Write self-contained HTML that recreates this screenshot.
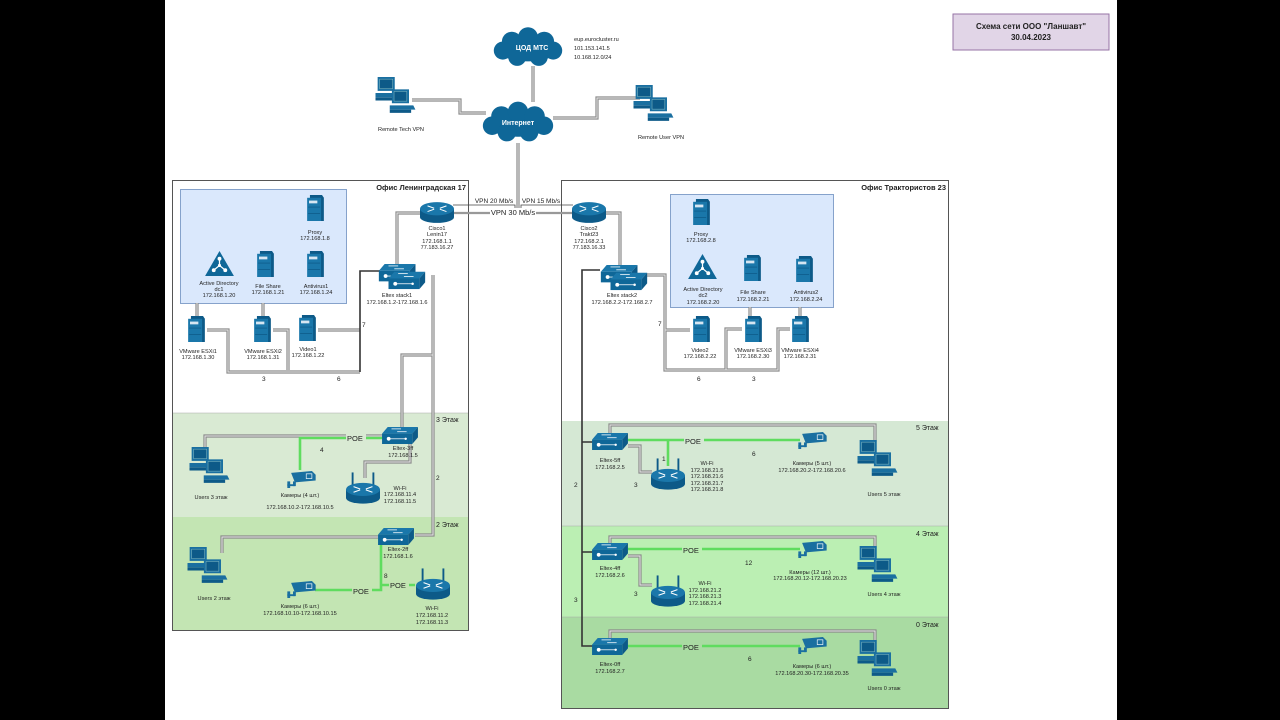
<!DOCTYPE html>
<html><head><meta charset="utf-8">
<style>
html,body{margin:0;padding:0;background:#000;}
svg{display:block;}
text{font-family:"Liberation Sans",sans-serif;fill:#222;}
.s{font-size:5.6px;text-anchor:middle;}
.t{font-size:8px;font-weight:bold;}
.g{fill:none;stroke:#8a8a8a;stroke-width:3.2;}
.gi{fill:none;stroke:#e6e6e6;stroke-width:1;}
.k{fill:none;stroke:#333;stroke-width:1.6;}
.p{fill:none;stroke:#5fdc5f;stroke-width:2.6;}
defs path{fill:none;}
</style></head><body>
<svg width="1280" height="720" viewBox="0 0 1280 720" xmlns="http://www.w3.org/2000/svg">
<defs>
<symbol id="srv" viewBox="0 0 18 28" overflow="visible">
<polygon points="3,0 16,0 18,3 18,28 3,28" fill="#0d5a88"/>
<rect x="0" y="3" width="15" height="25" fill="#1a77aa"/>
<rect x="2" y="6" width="9" height="3" fill="#d6e6f2"/>
<line x1="1" y1="13" x2="14" y2="13" stroke="#0d5a88" stroke-width="0.8"/>
<line x1="1" y1="20" x2="14" y2="20" stroke="#0d5a88" stroke-width="0.8"/>
</symbol>
<symbol id="pc1" viewBox="0 0 26 24" overflow="visible">
<rect x="2" y="0" width="16" height="13" fill="#1a6fa0"/>
<rect x="4" y="2" width="12" height="9" fill="#0d5a88" stroke="#9cc" stroke-width="0.4"/>
<polygon points="0,15 22,15 24,19 0,19" fill="#1a6fa0"/>
<rect x="0" y="19" width="20" height="3" fill="#0d5a88"/>
</symbol>
<symbol id="pc" viewBox="0 0 46 40" overflow="visible">
<use href="#pc1" x="0" y="0" width="30" height="27"/>
<use href="#pc1" x="15" y="13" width="30" height="27"/>
</symbol>
<symbol id="rt" viewBox="0 0 36 24" overflow="visible">
<rect x="0" y="8" width="36" height="9" fill="#0d5a88"/>
<ellipse cx="18" cy="17" rx="18" ry="6" fill="#0d5a88"/>
<ellipse cx="18" cy="8" rx="18" ry="7" fill="#1a77aa"/>
<g stroke="#fff" stroke-width="1.1">
<line x1="8" y1="5" x2="15" y2="7.5"/><line x1="21" y1="8.5" x2="28" y2="11"/>
<line x1="28" y1="5" x2="21" y2="7.5"/><line x1="15" y1="8.5" x2="8" y2="11"/>
</g>
</symbol>
<symbol id="wf" viewBox="0 0 36 34" overflow="visible">
<line x1="7" y1="0" x2="7" y2="14" stroke="#0d5a88" stroke-width="2"/>
<line x1="29" y1="0" x2="29" y2="14" stroke="#0d5a88" stroke-width="2"/>
<use href="#rt" x="0" y="10" width="36" height="24"/>
</symbol>
<symbol id="sw" viewBox="0 0 38 18" overflow="visible">
<polygon points="6,0 38,0 32,7 0,7" fill="#1a77aa"/>
<polygon points="32,7 38,0 38,11 32,18" fill="#0d5a88"/>
<rect x="0" y="7" width="32" height="11" fill="#0f6798"/>
<g stroke="#fff" stroke-width="0.8"><line x1="10" y1="2" x2="20" y2="2"/><line x1="16" y1="5" x2="26" y2="5"/>
<line x1="8" y1="12.5" x2="24" y2="12.5"/></g>
<circle cx="7" cy="12.5" r="2" fill="#fff"/><circle cx="25" cy="12.5" r="1.3" fill="#fff"/>
</symbol>
<symbol id="st" viewBox="0 0 48 28" overflow="visible">
<use href="#sw" x="0" y="0" width="38" height="18"/>
<use href="#sw" x="10" y="8" width="38" height="18"/>
</symbol>
<symbol id="cam" viewBox="0 0 30 18" overflow="visible">
<polygon points="4,2 26,0 30,4 30,10 8,12" fill="#1a6fa0"/>
<rect x="20" y="3" width="6" height="5" fill="none" stroke="#fff" stroke-width="0.7"/>
<rect x="6" y="11" width="3" height="5" fill="#1a6fa0"/>
<rect x="0" y="11" width="3" height="7" fill="#1a6fa0"/>
<rect x="0" y="14" width="8" height="2" fill="#1a6fa0"/>
</symbol>
<symbol id="ad" viewBox="0 0 30 26" overflow="visible">
<polygon points="15,0 30,26 0,26" fill="#0f6798"/>
<g stroke="#fff" stroke-width="1.3"><line x1="15" y1="8" x2="15" y2="15"/><line x1="15" y1="15" x2="9" y2="20"/><line x1="15" y1="15" x2="21" y2="20"/></g>
<circle cx="15" cy="8" r="2" fill="#fff"/><circle cx="9" cy="20" r="2" fill="#fff"/><circle cx="21" cy="20" r="2" fill="#fff"/><circle cx="15" cy="15" r="1.6" fill="#fff"/>
</symbol>
<symbol id="cl" viewBox="0 0 80 44" overflow="visible">
<g fill="#0f6798">
<ellipse cx="40" cy="24" rx="34" ry="14"/>
<circle cx="22" cy="16" r="11"/><circle cx="40" cy="11" r="11"/><circle cx="58" cy="16" r="11"/>
<circle cx="12" cy="26" r="10"/><circle cx="68" cy="26" r="10"/>
<circle cx="28" cy="33" r="10"/><circle cx="52" cy="33" r="10"/>
</g>
</symbol>
<path id="l1" d="M412,100 H460 V113 H486"/>
<path id="l2" d="M553,118 H597 V98 H640"/>
<path id="l3" d="M533,66 V102"/>
<path id="l4" d="M518,143 V210"/>
<path id="l5" d="M421,213 H397 V268"/>
<path id="l6" d="M604,213 H620 V268"/>
<path id="l7" d="M433,275 V535 H415"/>
<path id="l8" d="M433,355 H402 V428"/>
<path id="l9" d="M207,330 H228 V372 H360"/>
<path id="l10" d="M273,330 H288 V370"/>
<path id="l11" d="M318,330 H360"/>
<path id="l12" d="M385,436 H205 V450"/>
<path id="l13" d="M410,444 V462 H365 V478"/>
<path id="l14" d="M378,537 H222 V553"/>
<path id="l15" d="M645,275 H665 V370 H778 V329 H790"/>
<path id="l16" d="M690,330 H665"/>
<path id="l17" d="M742,329 H726 V370"/>
<path id="l18" d="M610,434 V425 H875 V442"/>
<path id="l19" d="M628,446 H640 V472 H652"/>
<path id="l20" d="M610,544 V537 H875 V548"/>
<path id="l21" d="M628,556 H640 V585 H652"/>
<path id="l22" d="M610,638 V631 H875 V644"/>
<path id="l23" d="M197,303 V317"/><path id="l24" d="M263,303 V317"/>
<path id="l25" d="M750,307 V317"/><path id="l26" d="M800,307 V317"/>
</defs>

<rect x="165" y="0" width="952" height="720" fill="#fff"/>

<rect x="953" y="14" width="156" height="36" fill="#e1d5e7" stroke="#9673a6" stroke-width="1"/>
<text x="1031" y="29" class="t" text-anchor="middle">Схема сети ООО "Ланшавт"</text>
<text x="1031" y="40" class="t" text-anchor="middle">30.04.2023</text>

<rect x="172.5" y="180.5" width="296" height="450" fill="#fff" stroke="#555" stroke-width="1"/>
<rect x="173" y="413" width="295" height="104" fill="#d9ead3"/>
<rect x="173" y="517" width="295" height="113" fill="#c3e5b3"/>
<line x1="173" y1="413" x2="468" y2="413" stroke="#aaa" stroke-width="0.6"/>
<text x="466" y="190" class="t" text-anchor="end" style="font-size:7.5px">Офис Ленинградская 17</text>
<text x="436" y="422" style="font-size:7px">3 Этаж</text>
<text x="436" y="527" style="font-size:7px">2 Этаж</text>
<rect x="180.5" y="189.5" width="166" height="114" fill="#dae8fc" stroke="#6c8ebf" stroke-width="0.8"/>

<rect x="561.5" y="180.5" width="387" height="528" fill="#fff" stroke="#555" stroke-width="1"/>
<rect x="562" y="421" width="386" height="105" fill="#d5e8d4"/>
<rect x="562" y="526" width="386" height="91" fill="#bbefb3"/>
<rect x="562" y="617" width="386" height="91" fill="#a9dba2"/>
<line x1="562" y1="526" x2="948" y2="526" stroke="#aaa" stroke-width="0.6"/>
<line x1="562" y1="617" x2="948" y2="617" stroke="#aaa" stroke-width="0.6"/>
<text x="946" y="190" class="t" text-anchor="end" style="font-size:7.5px">Офис Трактористов 23</text>
<text x="916" y="430" style="font-size:7px">5 Этаж</text>
<text x="916" y="536" style="font-size:7px">4 Этаж</text>
<text x="916" y="627" style="font-size:7px">0 Этаж</text>
<rect x="670.5" y="194.5" width="163" height="113" fill="#dae8fc" stroke="#6c8ebf" stroke-width="0.8"/>

<g class="g"><use href="#l1"/><use href="#l2"/><use href="#l3"/><use href="#l4"/><use href="#l5"/><use href="#l6"/><use href="#l7"/><use href="#l8"/><use href="#l9"/><use href="#l10"/><use href="#l11"/><use href="#l12"/><use href="#l13"/><use href="#l14"/><use href="#l15"/><use href="#l16"/><use href="#l17"/><use href="#l18"/><use href="#l19"/><use href="#l20"/><use href="#l21"/><use href="#l22"/><use href="#l23"/><use href="#l24"/><use href="#l25"/><use href="#l26"/></g>
<g class="gi"><use href="#l1"/><use href="#l2"/><use href="#l3"/><use href="#l4"/><use href="#l5"/><use href="#l6"/><use href="#l7"/><use href="#l8"/><use href="#l9"/><use href="#l10"/><use href="#l11"/><use href="#l12"/><use href="#l13"/><use href="#l14"/><use href="#l15"/><use href="#l16"/><use href="#l17"/><use href="#l18"/><use href="#l19"/><use href="#l20"/><use href="#l21"/><use href="#l22"/><use href="#l23"/><use href="#l24"/><use href="#l25"/><use href="#l26"/></g>

<path class="k" d="M380,271 H360 V372"/>
<path class="k" d="M600,270 H582 V646 H594"/>
<path class="k" d="M582,442 H594 M582,552 H594"/>
<path d="M453,205 H515 V210 H521 V205 H573" fill="none" stroke="#444" stroke-width="0.8"/>
<path d="M453,213 H573" fill="none" stroke="#999" stroke-width="2.2"/>
<rect x="474" y="196" width="40" height="8" fill="#fff"/>
<text x="494" y="203" style="font-size:6.5px" text-anchor="middle">VPN 20 Mb/s</text>
<rect x="522" y="196" width="38" height="8" fill="#fff"/>
<text x="541" y="203" style="font-size:6.5px" text-anchor="middle">VPN 15 Mb/s</text>
<rect x="490" y="208" width="46" height="9" fill="#fff"/>
<text x="513" y="215" style="font-size:7.5px" text-anchor="middle">VPN 30 Mb/s</text>

<g class="p">
<path d="M385,438 H300 V470"/>
<path d="M381,545 V590 H315"/>
<path d="M381,585 H415"/>
<path d="M628,440 H800"/>
<path d="M668,440 V466"/>
<path d="M628,549 H800"/>
<path d="M628,646 H800"/>
</g>
<g style="font-size:7.5px">
<rect x="346" y="433" width="20" height="9" fill="#d9ead3"/><text x="347" y="441">POE</text>
<rect x="352" y="586" width="20" height="9" fill="#c3e5b3"/><text x="353" y="594">POE</text>
<rect x="389" y="580" width="20" height="9" fill="#c3e5b3"/><text x="390" y="588">POE</text>
<rect x="684" y="436" width="20" height="9" fill="#d5e8d4"/><text x="685" y="444">POE</text>
<rect x="682" y="545" width="20" height="9" fill="#bbefb3"/><text x="683" y="553">POE</text>
<rect x="682" y="642" width="20" height="9" fill="#a9dba2"/><text x="683" y="650">POE</text>
</g>
<g style="font-size:6.5px">
<text x="320" y="452">4</text><text x="436" y="480">2</text><text x="384" y="578">8</text>
<text x="362" y="327">7</text><text x="262" y="381">3</text><text x="337" y="381">6</text>
<text x="658" y="326">7</text><text x="697" y="381">6</text><text x="752" y="381">3</text>
<text x="574" y="487">2</text><text x="574" y="602">3</text>
<text x="662" y="461">1</text><text x="634" y="487">3</text><text x="752" y="456">6</text>
<text x="634" y="596">3</text><text x="745" y="565">12</text><text x="748" y="661">6</text>
</g>

<use href="#cl" x="492" y="26" width="72" height="42"/>
<text x="532" y="50" style="font-size:7px;font-weight:bold;fill:#fff" text-anchor="middle">ЦОД МТС</text>
<g style="font-size:5.6px"><text x="574" y="41">eup.eurocluster.ru</text><text x="574" y="50">101.153.141.5</text><text x="574" y="59">10.168.12.0/24</text></g>
<use href="#cl" x="481" y="100" width="74" height="44"/>
<text x="518" y="125" style="font-size:7px;font-weight:bold;fill:#fff" text-anchor="middle">Интернет</text>
<use href="#pc" x="375" y="77" width="44" height="38"/>
<text x="401" y="131" class="s">Remote Tech VPN</text>
<use href="#pc" x="633" y="85" width="44" height="38"/>
<text x="661" y="139" class="s">Remote User VPN</text>

<use href="#rt" x="420" y="201" width="34" height="23"/>
<g class="s"><text x="437" y="230">Cisco1</text><text x="437" y="236">Lenin17</text><text x="437" y="243">172.168.1.1</text><text x="437" y="249">77.183.16.27</text></g>
<use href="#rt" x="572" y="201" width="34" height="23"/>
<g class="s"><text x="589" y="230">Cisco2</text><text x="589" y="236">Trakt23</text><text x="589" y="243">172.168.2.1</text><text x="589" y="249">77.183.16.33</text></g>
<use href="#st" x="378" y="264" width="48" height="27"/>
<g class="s"><text x="397" y="297">Eltex stack1</text><text x="397" y="304">172.168.1.2-172.168.1.6</text></g>
<use href="#st" x="600" y="265" width="48" height="27"/>
<g class="s"><text x="622" y="297">Eltex stack2</text><text x="622" y="304">172.168.2.2-172.168.2.7</text></g>

<use href="#srv" x="307" y="195" width="17" height="26"/>
<g class="s"><text x="315" y="234">Proxy</text><text x="315" y="240">172.168.1.8</text></g>
<use href="#ad" x="205" y="251" width="29" height="25"/>
<g class="s"><text x="219" y="285">Active Directory</text><text x="219" y="291">dc1</text><text x="219" y="297">172.168.1.20</text></g>
<use href="#srv" x="257" y="251" width="17" height="26"/>
<g class="s"><text x="268" y="288">File Share</text><text x="268" y="294">172.168.1.21</text></g>
<use href="#srv" x="307" y="251" width="17" height="26"/>
<g class="s"><text x="316" y="288">Antivirus1</text><text x="316" y="294">172.168.1.24</text></g>
<use href="#srv" x="188" y="316" width="17" height="26"/>
<g class="s"><text x="198" y="353">VMware ESXi1</text><text x="198" y="359">172.168.1.30</text></g>
<use href="#srv" x="254" y="316" width="17" height="26"/>
<g class="s"><text x="263" y="353">VMware ESXi2</text><text x="263" y="359">172.168.1.31</text></g>
<use href="#srv" x="299" y="315" width="17" height="26"/>
<g class="s"><text x="308" y="351">Video1</text><text x="308" y="357">172.168.1.22</text></g>

<use href="#srv" x="693" y="199" width="17" height="26"/>
<g class="s"><text x="701" y="236">Proxy</text><text x="701" y="242">172.168.2.8</text></g>
<use href="#ad" x="688" y="254" width="29" height="25"/>
<g class="s"><text x="703" y="291">Active Directory</text><text x="703" y="297">dc2</text><text x="703" y="304">172.168.2.20</text></g>
<use href="#srv" x="744" y="255" width="17" height="26"/>
<g class="s"><text x="753" y="294">File Share</text><text x="753" y="301">172.168.2.21</text></g>
<use href="#srv" x="796" y="256" width="17" height="26"/>
<g class="s"><text x="806" y="294">Antivirus2</text><text x="806" y="301">172.168.2.24</text></g>
<use href="#srv" x="693" y="316" width="17" height="26"/>
<g class="s"><text x="700" y="352">Video2</text><text x="700" y="358">172.168.2.22</text></g>
<use href="#srv" x="745" y="316" width="17" height="26"/>
<g class="s"><text x="753" y="352">VMware ESXi3</text><text x="753" y="358">172.168.2.30</text></g>
<use href="#srv" x="792" y="316" width="17" height="26"/>
<g class="s"><text x="800" y="352">VMware ESXi4</text><text x="800" y="358">172.168.2.31</text></g>

<use href="#sw" x="381" y="427" width="38" height="17"/>
<g class="s"><text x="403" y="450">Eltex-3ff</text><text x="403" y="457">172.168.1.5</text></g>
<use href="#pc" x="189" y="447" width="44" height="38"/>
<text x="211" y="499" class="s">Users 3 этаж</text>
<use href="#cam" x="287" y="471" width="29" height="17"/>
<g class="s"><text x="300" y="497">Камеры (4 шт.)</text><text x="300" y="509">172.168.10.2-172.168.10.5</text></g>
<use href="#wf" x="346" y="472" width="34" height="33"/>
<g class="s"><text x="400" y="490">Wi-Fi</text><text x="400" y="496">172.168.11.4</text><text x="400" y="503">172.168.11.5</text></g>

<use href="#sw" x="377" y="528" width="38" height="17"/>
<g class="s"><text x="398" y="551">Eltex-2ff</text><text x="398" y="558">172.168.1.6</text></g>
<use href="#pc" x="187" y="547" width="44" height="38"/>
<text x="214" y="600" class="s">Users 2 этаж</text>
<use href="#cam" x="287" y="581" width="29" height="17"/>
<g class="s"><text x="300" y="608">Камеры (6 шт.)</text><text x="300" y="615">172.168.10.10-172.168.10.15</text></g>
<use href="#wf" x="416" y="568" width="34" height="33"/>
<g class="s"><text x="432" y="610">Wi-Fi</text><text x="432" y="617">172.168.11.2</text><text x="432" y="624">172.168.11.3</text></g>

<use href="#sw" x="591" y="433" width="38" height="17"/>
<g class="s"><text x="610" y="462">Eltex-5ff</text><text x="610" y="469">172.168.2.5</text></g>
<use href="#wf" x="651" y="458" width="34" height="33"/>
<g class="s"><text x="707" y="465">Wi-Fi</text><text x="707" y="472">172.168.21.5</text><text x="707" y="478">172.168.21.6</text><text x="707" y="485">172.168.21.7</text><text x="707" y="491">172.168.21.8</text></g>
<use href="#cam" x="798" y="432" width="29" height="17"/>
<g class="s"><text x="812" y="465">Камеры (5 шт.)</text><text x="812" y="472">172.168.20.2-172.168.20.6</text></g>
<use href="#pc" x="857" y="440" width="44" height="38"/>
<text x="884" y="496" class="s">Users 5 этаж</text>

<use href="#sw" x="591" y="543" width="38" height="17"/>
<g class="s"><text x="610" y="570">Eltex-4ff</text><text x="610" y="577">172.168.2.6</text></g>
<use href="#wf" x="651" y="575" width="34" height="33"/>
<g class="s"><text x="705" y="585">Wi-Fi</text><text x="705" y="592">172.168.21.2</text><text x="705" y="598">172.168.21.3</text><text x="705" y="605">172.168.21.4</text></g>
<use href="#cam" x="798" y="541" width="29" height="17"/>
<g class="s"><text x="810" y="574">Камеры (12 шт.)</text><text x="810" y="580">172.168.20.12-172.168.20.23</text></g>
<use href="#pc" x="857" y="546" width="44" height="38"/>
<text x="884" y="596" class="s">Users 4 этаж</text>

<use href="#sw" x="591" y="638" width="38" height="17"/>
<g class="s"><text x="610" y="666">Eltex-0ff</text><text x="610" y="673">172.168.2.7</text></g>
<use href="#cam" x="798" y="637" width="29" height="17"/>
<g class="s"><text x="812" y="668">Камеры (6 шт.)</text><text x="812" y="675">172.168.20.30-172.168.20.35</text></g>
<use href="#pc" x="857" y="640" width="44" height="38"/>
<text x="884" y="690" class="s">Users 0 этаж</text>
</svg>
</body></html>
